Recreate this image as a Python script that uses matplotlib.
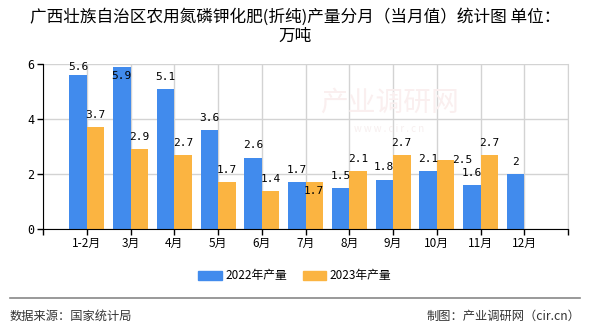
import matplotlib
matplotlib.use('Agg')
import matplotlib.pyplot as plt
from matplotlib.patches import Patch

plt.rcParams['font.family'] = ['Noto Sans CJK SC', 'DejaVu Sans']

# data
months = ["1-2月", "3月", "4月", "5月", "6月", "7月", "8月", "9月", "10月", "11月", "12月"]
prod_2022 = [5.6, 5.9, 5.1, 3.6, 2.6, 1.7, 1.5, 1.8, 2.1, 1.6, 2.0]
prod_2023 = [3.7, 2.9, 2.7, 1.7, 1.4, 1.7, 2.1, 2.7, 2.5, 2.7, None]
series_names = ["2022年产量", "2023年产量"]

c_blue = '#418BED'
c_orange = '#FBB441'
grid_c = '#D3D3D3'

fig = plt.figure(figsize=(5.9, 3.3), dpi=100)
ax = fig.add_axes([43/590, 1-229/330, 525/590, 165/330])

bw = 0.4
n = len(months)
x = list(range(n))
x22 = [i - bw/2 for i in x]
x23 = [x[i] + bw/2 for i in x if prod_2023[i] is not None]
v23 = [v for v in prod_2023 if v is not None]
ax.bar(x22, prod_2022, width=bw, color=c_blue, zorder=3)
ax.bar(x23, v23, width=bw, color=c_orange, zorder=3)

ax.set_xlim(-1, n)
ax.set_ylim(0, 6)
ax.set_xticks(range(-1, n + 1))
ax.set_xticklabels([''] + months + [''], fontsize=8.5)
ax.set_yticks([0, 2, 4, 6])
ax.set_yticklabels(['0', '2', '4', '6'], fontsize=8.5, family='DejaVu Sans Mono')
ax.tick_params(axis='both', direction='out', length=4, width=1, color='black', pad=2)
ax.grid(True, color=grid_c, lw=1, zorder=0)
ax.set_axisbelow(True)
ax.spines['top'].set_visible(False)
ax.spines['right'].set_color(grid_c)
ax.spines['left'].set_color('black')
ax.spines['bottom'].set_color('black')
ax.spines['bottom'].set_zorder(4)

# value labels with a simple overlap rule
px_x = 525 / (n + 1)   # pixels per x unit
px_y = 165 / 6         # pixels per y unit
lw_, lh_ = 20 / px_x, 12 / px_y
dy = 12 / px_y
placed = []
for i in x:
    for s, vals in ((0, prod_2022), (1, prod_2023)):
        v = vals[i]
        if v is None:
            continue
        xc = i - bw/2 if s == 0 else i + bw/2
        yc = v + dy
        if yc > 6 - 3 / px_y:
            yc = 6 - 3 / px_y
            if yc - v < 6 / px_y:
                # no room above the bar: put it inside
                yc = v - 9 / px_y
        for (px, py, pv) in placed:
            if abs(px - xc) < lw_ and abs(py - yc) < lh_:
                if abs(pv - v) < 1e-9:
                    yc = v - 9 / px_y
                else:
                    xc = xc + bw/2 - 2 / px_x + lw_/2
                    yc = v
                break
        placed.append((xc, yc, v))
        ax.text(xc, yc, '%g' % v, ha='center', va='center', fontsize=8,
                family='DejaVu Sans Mono', color='black', zorder=5)

# faint watermark
fig.text(0.66, 0.69, '产业调研网', fontsize=20, color='#FAEFEF', ha='center', va='center', zorder=0)
fig.text(0.66, 0.61, 'w w w . c i r . c n', fontsize=7, color='#F7EFEF', ha='center', va='center', zorder=0)

# title
fig.text(0.5, 1 - 17/330, '广西壮族自治区农用氮磷钾化肥(折纯)产量分月（当月值）统计图 单位：',
         ha='center', va='center', fontsize=12, color='black')
fig.text(0.5, 1 - 36/330, '万吨', ha='center', va='center', fontsize=12, color='black')

# legend
handles = [Patch(color=c_blue), Patch(color=c_orange)]
fig.legend(handles, series_names, loc='center', bbox_to_anchor=(0.5, 1 - 276/330),
           ncol=2, frameon=False, fontsize=8.5, handlelength=2.0, handleheight=0.8,
           handletextpad=0.3, columnspacing=1.3)

# footer
fig.add_artist(plt.Line2D([10/590, 580/590], [1 - 298/330, 1 - 298/330],
                          color='#888888', lw=1.2))
fig.text(10/590, 1 - 316/330, '数据来源：国家统计局', ha='left', va='center',
         fontsize=8.8, color='#333333')
fig.text(580/590, 1 - 316/330, '制图：产业调研网（cir.cn）', ha='right', va='center',
         fontsize=8.8, color='#333333')

fig.savefig('out.png', dpi=100)
